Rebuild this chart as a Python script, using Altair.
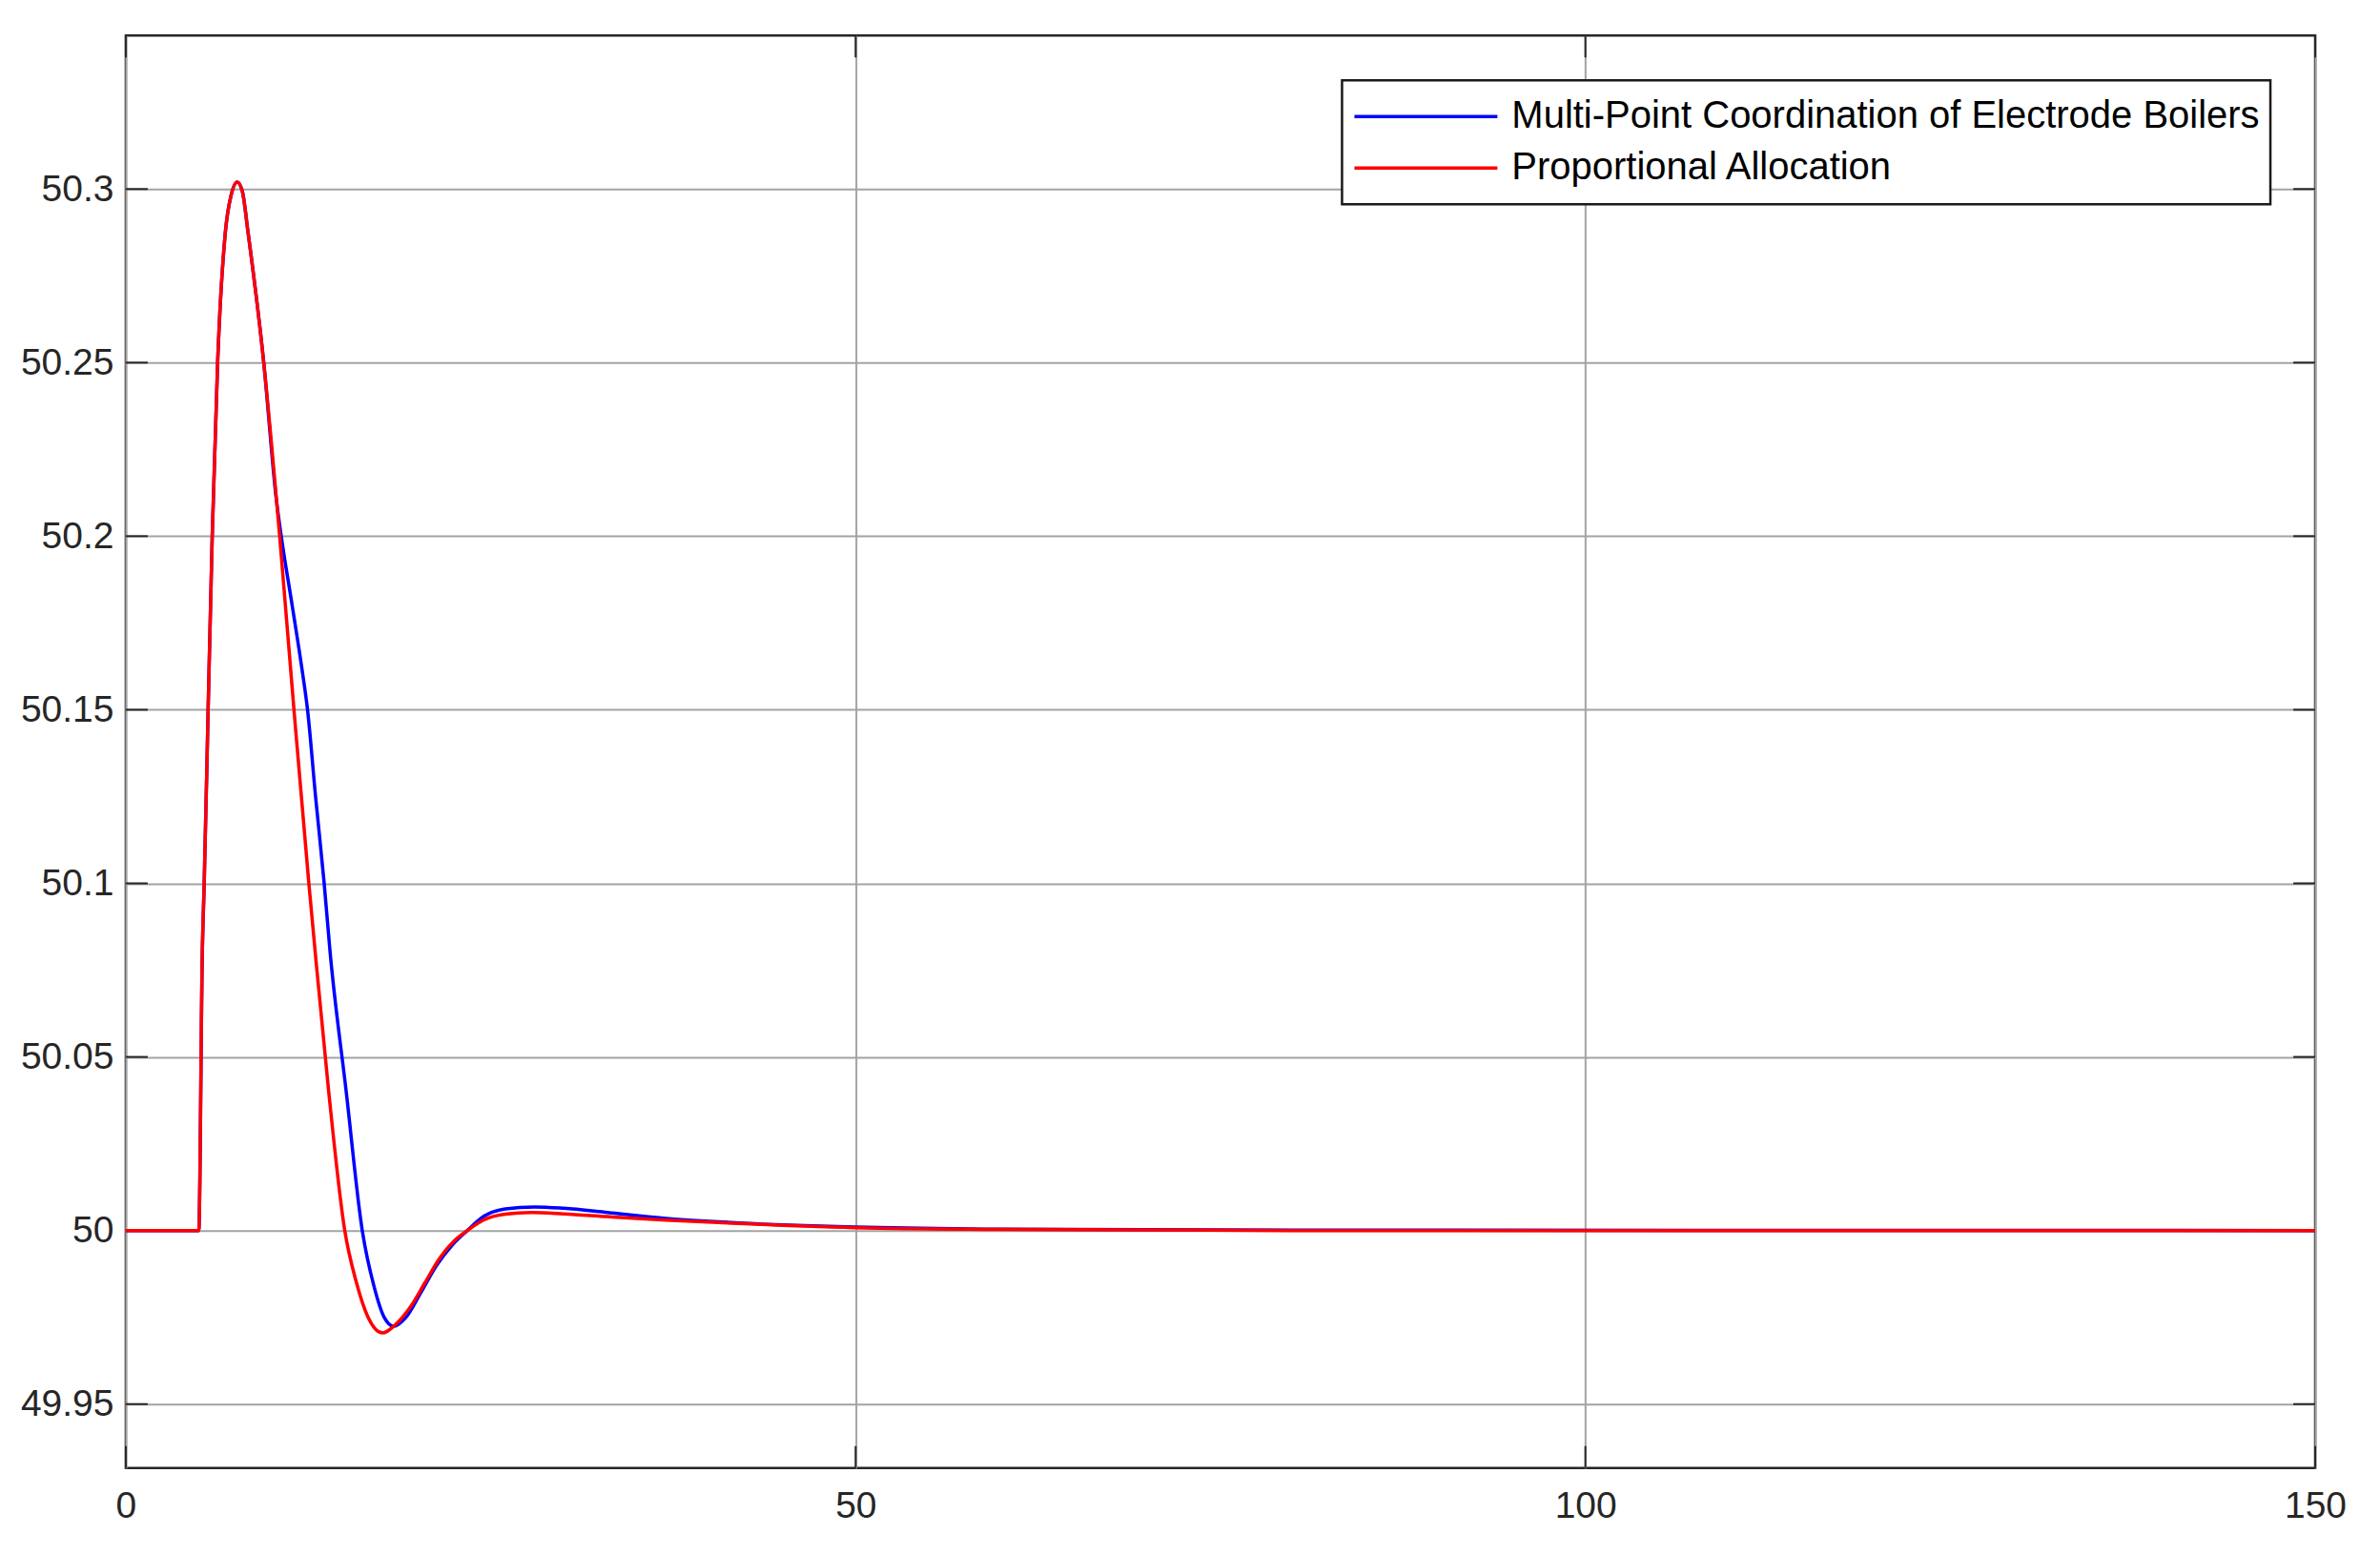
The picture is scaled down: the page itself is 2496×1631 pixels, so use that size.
import altair as alt
import pandas as pd

BLUE_NAME = "Multi-Point Coordination of Electrode Boilers"
RED_NAME = "Proportional Allocation"

t_blue = [0, 5.0, 5.24, 5.37, 5.64, 5.92, 6.29, 6.83, 7.2, 7.64, 8.0, 8.36, 9.45, 10.3, 10.65, 11.4,
          12.06, 12.45, 13.0, 13.59, 14.0, 15.1, 16.2, 17.0, 17.7, 18.35, 19.2, 20.2, 21.3, 22.4,
          23.4, 24.5, 26, 28, 30, 33, 37, 42, 50, 60, 80, 150]
v_blue = [50.0, 50.0, 50.08, 50.10, 50.15, 50.20, 50.25, 50.288, 50.298, 50.302, 50.299, 50.288,
          50.25, 50.211, 50.20, 50.18, 50.162, 50.15, 50.125, 50.10, 50.08, 50.04, 50.0, 49.984,
          49.975, 49.9724, 49.975, 49.982, 49.990, 49.996, 50.0, 50.004, 50.0062, 50.0068, 50.0064,
          50.0052, 50.0035, 50.0022, 50.001, 50.0004, 50.0001, 50.0]

t_red = [0, 5.0, 5.24, 5.37, 5.64, 5.92, 6.29, 6.83, 7.2, 7.64, 8.0, 8.36, 9.45, 10.54, 11.52,
         12.54, 12.98, 13.9, 15.0, 15.8, 16.6, 17.6, 18.5, 19.5, 20.5, 21.5, 22.5, 23.4, 24.5, 26,
         27.8, 30, 33, 37, 42, 50, 60, 80, 150]
v_red = [50.0, 50.0, 50.08, 50.10, 50.15, 50.20, 50.25, 50.288, 50.298, 50.302, 50.299, 50.288,
         50.25, 50.20, 50.15, 50.10, 50.08, 50.04, 50.0, 49.985, 49.975, 49.9705, 49.973, 49.978,
         49.985, 49.992, 49.997, 50.0, 50.003, 50.0047, 50.0052, 50.0048, 50.004, 50.003, 50.002,
         50.0008, 50.0003, 50.0, 50.0]

x_ticks = [0, 50, 100, 150]
y_ticks = [49.95, 50.0, 50.05, 50.1, 50.15, 50.2, 50.25, 50.3]

X_DOMAIN = [0, 150]
Y_DOMAIN = [49.9316, 50.3442]
TICK_LEN_X = 1.5      # inward tick length in x units
TICK_LEN_Y = 0.0063   # inward tick length in y units

df = pd.concat([
    pd.DataFrame({"t": t_blue, "f": v_blue, "series": BLUE_NAME, "order": 0}),
    pd.DataFrame({"t": t_red, "f": v_red, "series": RED_NAME, "order": 1}),
])

xs = alt.Scale(domain=X_DOMAIN, nice=False, zero=False)
ys = alt.Scale(domain=Y_DOMAIN, nice=False, zero=False)

FONT = "Liberation Sans"
TXT = "#262626"

x_axis = alt.Axis(values=x_ticks, title=None, grid=True, gridColor="#a3a3a3", gridWidth=2,
                  ticks=False, tickSize=0, domain=False, labelFont=FONT, labelFontSize=39,
                  labelColor=TXT, labelPadding=21, labelFlush=False)
y_axis = alt.Axis(values=y_ticks, title=None, grid=True, gridColor="#a3a3a3", gridWidth=2,
                  ticks=False, tickSize=0, domain=False, labelFont=FONT, labelFontSize=39,
                  labelColor=TXT, labelPadding=13, format=".2~f")

lines = alt.Chart(df).mark_line(strokeWidth=3.5, interpolate="monotone").encode(
    x=alt.X("t:Q", scale=xs, axis=x_axis),
    y=alt.Y("f:Q", scale=ys, axis=y_axis),
    color=alt.Color("series:N",
                    scale=alt.Scale(domain=[BLUE_NAME, RED_NAME], range=["#0000ff", "#ff0000"]),
                    legend=alt.Legend(title=None, orient="top-right", offset=47,
                                      symbolType="stroke", symbolSize=22500, symbolStrokeWidth=3.5,
                                      clipHeight=54, rowPadding=-2, labelOffset=13,
                                      labelFont=FONT, labelFontSize=40, labelColor="#000000",
                                      labelLimit=2000, padding=11, strokeColor="#1a1a1a",
                                      fillColor="#ffffff", cornerRadius=0)),
    detail="series:N",
    order="order:Q",
)

# inward tick marks (MATLAB-like box ticks)
ytk = pd.DataFrame({"v": y_ticks})
left_ticks = alt.Chart(ytk).mark_rule(color=TXT, strokeWidth=2).encode(
    y=alt.Y("v:Q", scale=ys), x=alt.datum(X_DOMAIN[0]), x2=alt.datum(X_DOMAIN[0] + TICK_LEN_X))
right_ticks = alt.Chart(ytk).mark_rule(color=TXT, strokeWidth=2).encode(
    y=alt.Y("v:Q", scale=ys), x=alt.datum(X_DOMAIN[1] - TICK_LEN_X), x2=alt.datum(X_DOMAIN[1]))
xtk = pd.DataFrame({"v": x_ticks})
bottom_ticks = alt.Chart(xtk).mark_rule(color=TXT, strokeWidth=2).encode(
    x=alt.X("v:Q", scale=xs), y=alt.datum(Y_DOMAIN[0]), y2=alt.datum(Y_DOMAIN[0] + TICK_LEN_Y))
top_ticks = alt.Chart(xtk).mark_rule(color=TXT, strokeWidth=2).encode(
    x=alt.X("v:Q", scale=xs), y=alt.datum(Y_DOMAIN[1] - TICK_LEN_Y), y2=alt.datum(Y_DOMAIN[1]))

chart = alt.layer(left_ticks, right_ticks, bottom_ticks, top_ticks, lines).properties(
    width=2297, height=1503,
    autosize=alt.AutoSizeParams(type="none"),
    padding={"left": 124, "top": 29, "right": 60, "bottom": 90},
    background="#ffffff",
).configure_view(stroke=TXT, strokeWidth=2.5).configure_legend(strokeWidth=2.5)

chart.save("out.html", embed_options={"renderer": "svg", "actions": False})
